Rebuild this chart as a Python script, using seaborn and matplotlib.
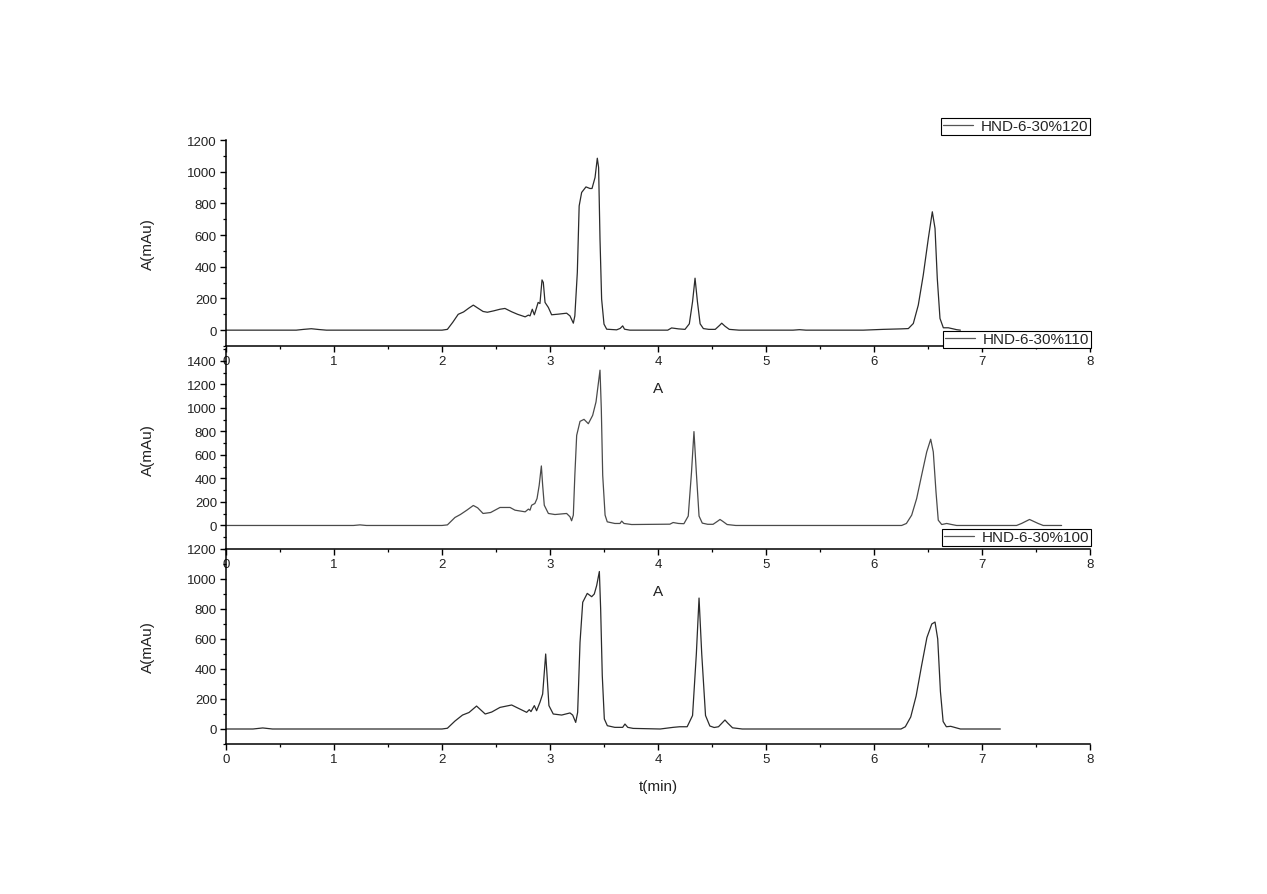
import numpy as np
import pandas as pd
import matplotlib
matplotlib.use("Agg")
import matplotlib.pyplot as plt
from matplotlib.ticker import MultipleLocator
import seaborn as sns

# ---------------- data ----------------
labels = ["HND-6-30%120", "HND-6-30%110", "HND-6-30%100"]

t_120 = [0.00, 0.65, 0.72, 0.79, 0.86, 0.93, 2.00, 2.05, 2.10, 2.15,
         2.20, 2.25, 2.29, 2.33, 2.38, 2.42, 2.48, 2.537, 2.583, 2.645,
         2.70, 2.77, 2.80, 2.815, 2.836, 2.855, 2.876, 2.89, 2.907, 2.926,
         2.938, 2.954, 2.985, 3.015, 3.077, 3.154, 3.185, 3.216, 3.23, 3.253,
         3.27, 3.293, 3.333, 3.37, 3.389, 3.417, 3.438, 3.45, 3.463, 3.478,
         3.50, 3.525, 3.617, 3.65, 3.673, 3.69, 3.74, 4.09, 4.126, 4.19,
         4.25, 4.29, 4.32, 4.343, 4.365, 4.39, 4.42, 4.47, 4.53, 4.57,
         4.59, 4.62, 4.66, 4.75, 5.25, 5.31, 5.37, 5.90, 6.086, 6.25,
         6.318, 6.364, 6.41, 6.456, 6.503, 6.54, 6.565, 6.586, 6.611, 6.642,
         6.688, 6.734, 6.765, 6.80]
a_120 = [0, 0, 5, 9, 4, 0, 0, 5, 50, 100,
         115, 140, 158, 140, 118, 113, 122, 132, 137, 116,
         100, 84, 95, 90, 132, 97, 143, 175, 168, 317,
         301, 175, 143, 97, 101, 107, 90, 44, 90, 364,
         784, 869, 904, 894, 894, 963, 1085, 1027, 574, 196,
         38, 6, 2, 11, 27, 6, 0, 0, 14, 8,
         5, 40, 180, 328, 180, 40, 10, 5, 5, 30,
         44, 25, 5, 0, 0, 3, 0, 0, 5, 8,
         10, 42, 158, 347, 579, 747, 642, 326, 74, 15,
         15, 8, 3, 0]

t_110 = [0.00, 1.18, 1.24, 1.30, 2.00, 2.05, 2.12, 2.17, 2.23, 2.29,
         2.33, 2.38, 2.45, 2.537, 2.63, 2.676, 2.77, 2.80, 2.815, 2.83,
         2.86, 2.88, 2.90, 2.92, 2.932, 2.947, 2.985, 3.046, 3.154, 3.185,
         3.20, 3.216, 3.23, 3.247, 3.278, 3.315, 3.355, 3.395, 3.426, 3.463,
         3.475, 3.488, 3.51, 3.53, 3.60, 3.648, 3.664, 3.685, 3.756, 4.11,
         4.14, 4.19, 4.24, 4.28, 4.31, 4.333, 4.355, 4.38, 4.41, 4.46,
         4.51, 4.55, 4.574, 4.60, 4.64, 4.72, 5.30, 6.256, 6.30, 6.349,
         6.395, 6.441, 6.488, 6.525, 6.549, 6.574, 6.595, 6.627, 6.673, 6.72,
         6.765, 7.32, 7.366, 7.44, 7.52, 7.567, 7.737]
a_110 = [0, 0, 5, 0, 0, 5, 68, 93, 130, 170,
         150, 102, 110, 153, 153, 130, 116, 139, 130, 172,
         187, 229, 342, 506, 342, 172, 102, 93, 102, 74,
         40, 88, 427, 766, 885, 902, 865, 936, 1050, 1320,
         993, 427, 88, 31, 17, 17, 37, 17, 8, 11,
         25, 17, 15, 80, 450, 798, 450, 80, 20, 10,
         10, 35, 51, 35, 8, 0, 0, 0, 17, 88,
         229, 427, 625, 733, 625, 286, 45, 8, 17, 8,
         0, 0, 17, 51, 17, 0, 0]

t_100 = [0.00, 0.25, 0.34, 0.43, 2.00, 2.05, 2.12, 2.19, 2.25, 2.32,
         2.40, 2.46, 2.537, 2.645, 2.69, 2.784, 2.808, 2.824, 2.855, 2.876,
         2.907, 2.932, 2.96, 2.975, 2.99, 3.03, 3.108, 3.185, 3.21, 3.238,
         3.256, 3.278, 3.303, 3.345, 3.386, 3.41, 3.432, 3.457, 3.469, 3.484,
         3.503, 3.531, 3.60, 3.673, 3.694, 3.72, 3.77, 4.02, 4.14, 4.20,
         4.27, 4.32, 4.355, 4.38, 4.405, 4.44, 4.48, 4.52, 4.56, 4.60,
         4.62, 4.645, 4.69, 4.78, 6.25, 6.29, 6.34, 6.39, 6.44, 6.49,
         6.535, 6.565, 6.59, 6.615, 6.64, 6.67, 6.71, 6.75, 6.80, 7.17]
a_100 = [0, 0, 7, 0, 0, 5, 53, 93, 110, 153,
         100, 113, 144, 160, 144, 111, 129, 116, 156, 122,
         178, 233, 500, 333, 156, 100, 93, 107, 93, 44,
         111, 578, 845, 904, 882, 900, 956, 1050, 800, 356,
         67, 22, 11, 11, 33, 11, 4, 0, 11, 15,
         15, 90, 500, 873, 500, 90, 20, 10, 15, 45,
         60, 40, 8, 0, 0, 15, 80, 220, 420, 610,
         700, 713, 600, 250, 50, 15, 18, 10, 0, 0]

x_labels = ["A", "A", "t(min)"]
y_label = "A(mAu)"
y_limits = [(-100, 1200), (-200, 1500), (-100, 1200)]
y_max_tick = [1200, 1400, 1200]

# ---------------- style ----------------
sns.set_style("ticks")
plt.rcParams["font.family"] = ["Liberation Sans", "DejaVu Sans"]

W, H = 1267, 895
fig = plt.figure(figsize=(W / 100, H / 100), dpi=100)

left = 226 / W
width = 864 / W
panels = [(347, 206), (550, 200), (745, 195)]  # (bottom px, height px)
leg_anchor = [(1090, 136), (1091, 349), (1091, 547)]
colors = ["#2b2b2b", "#4a4a4a", "#2b2b2b"]

series = [(t_120, a_120), (t_110, a_110), (t_100, a_100)]

for i, ((tt, aa), (bpx, hpx)) in enumerate(zip(series, panels)):
    ax = fig.add_axes([left, 1 - bpx / H, width, hpx / H])
    ax.set_facecolor("none")
    df = pd.DataFrame({"t": tt, "A": aa, "sample": labels[i]})
    sns.lineplot(data=df, x="t", y="A", ax=ax, estimator=None, sort=False,
                 color=colors[i], lw=0.9, label=labels[i])
    ax.set_xlim(0, 8)
    ax.set_ylim(*y_limits[i])
    ax.set_xticks(range(0, 9))
    ax.set_yticks(np.arange(0, y_max_tick[i] + 1, 200))
    ax.xaxis.set_minor_locator(MultipleLocator(0.5))
    ax.yaxis.set_minor_locator(MultipleLocator(100))
    for s in ["top", "right"]:
        ax.spines[s].set_visible(False)
    for s in ["left", "bottom"]:
        ax.spines[s].set_linewidth(1.1)
        ax.spines[s].set_color("black")
    ax.tick_params(axis="both", which="major", direction="out", length=4.5,
                   width=1.0, labelsize=9.5, colors="black", labelcolor="#222222", pad=2)
    ax.tick_params(axis="both", which="minor", direction="out", length=2.5,
                   width=0.9, colors="black")
    ax.set_xlabel(x_labels[i], fontsize=11, color="#222222")
    ax.xaxis.set_label_coords(0.5, -35 / hpx)
    ax.set_ylabel(y_label, fontsize=11, color="#222222")
    ax.yaxis.set_label_coords(-71 / 864, 0.5)
    ax.grid(False)
    lx, ly = leg_anchor[i]
    leg = ax.legend(loc="lower right", bbox_to_anchor=(lx / W, 1 - ly / H),
                    bbox_transform=fig.transFigure, fontsize=11, frameon=True,
                    fancybox=False, edgecolor="black", framealpha=1,
                    borderpad=0.1, handlelength=2.0, handletextpad=0.5,
                    borderaxespad=0)
    leg.get_frame().set_linewidth(0.8)
    for h in leg.get_lines():
        h.set_color("#555555")
        h.set_linewidth(0.9)

fig.savefig("out.png", dpi=100)
